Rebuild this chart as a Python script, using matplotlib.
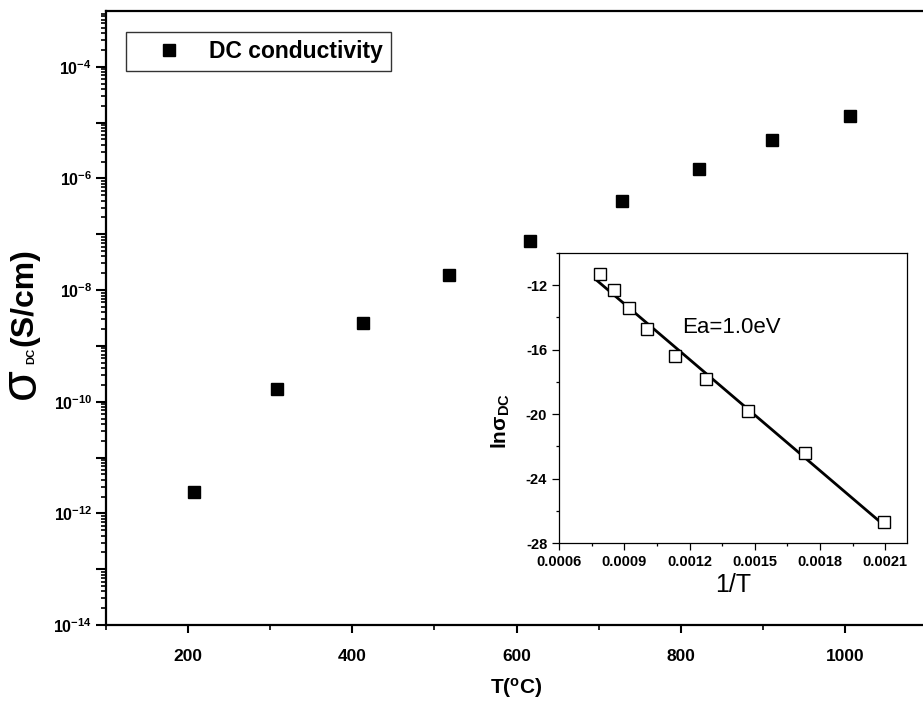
import numpy as np
import matplotlib
matplotlib.use("Agg")
import matplotlib.pyplot as plt
from matplotlib.ticker import LogLocator, FixedLocator, FuncFormatter, MultipleLocator, NullFormatter

plt.rcParams['font.family'] = ['Liberation Sans', 'DejaVu Sans']
plt.rcParams['mathtext.fontset'] = 'custom'
plt.rcParams['mathtext.rm'] = 'Liberation Sans'
plt.rcParams['mathtext.bf'] = 'Liberation Sans:bold'
plt.rcParams['mathtext.it'] = 'Liberation Sans:italic'

# DC conductivity vs temperature
temp_c = [207, 308, 413, 518, 617, 728, 822, 911, 1006]
sigma_dc = [2.45e-12, 1.7e-10, 2.6e-9, 1.85e-8, 7.6e-8, 4.0e-7, 1.5e-6, 4.8e-6, 1.3e-5]

# Arrhenius plot (inset)
inv_t = [0.000787, 0.000853, 0.000924, 0.001006, 0.001132, 0.001276, 0.001471, 0.001731, 0.002092]
ln_sigma = [-11.28, -12.27, -13.41, -14.74, -16.42, -17.82, -19.78, -22.42, -26.72]

W, H = 923, 704
fig = plt.figure(figsize=(W / 100, H / 100), dpi=100)

def rect(x0, y0, x1, y1):
    return [x0 / W, 1 - y1 / H, (x1 - x0) / W, (y1 - y0) / H]

ax = fig.add_axes(rect(106, 11, 927, 625))
ax.plot(temp_c, sigma_dc, 's', color='black', markersize=9, label='DC conductivity')
ax.set_yscale('log')
ax.set_xlim(100, 1100)
ax.set_ylim(1e-14, 1e-3)

for s in ax.spines.values():
    s.set_linewidth(1.6)
ax.spines['right'].set_visible(False)

ax.xaxis.set_major_locator(MultipleLocator(200))
ax.xaxis.set_minor_locator(MultipleLocator(100))
ax.yaxis.set_major_locator(FixedLocator([10.0 ** e for e in range(-14, -3)]))
ax.yaxis.set_minor_locator(LogLocator(base=10, subs=np.arange(2, 10), numticks=30))
ax.yaxis.set_minor_formatter(NullFormatter())

def ylab(v, pos):
    e = int(round(np.log10(v)))
    if e % 2:
        return ''
    return r'$\mathbf{10^{%d}}$' % e

ax.yaxis.set_major_formatter(FuncFormatter(ylab))
ax.tick_params(axis='both', which='major', direction='out', width=1.5)
ax.tick_params(axis='y', which='major', length=7, pad=3, labelsize=11.5)
ax.tick_params(axis='x', which='major', length=6, pad=11, labelsize=12.5)
ax.tick_params(axis='both', which='minor', direction='out', width=1.2, length=3.5)
ax.tick_params(top=False, right=False, which='both')
for lab in ax.get_xticklabels():
    lab.set_fontweight('bold')

ax.set_xlabel(r'T($\mathregular{^o}$C)', fontsize=15, fontweight='bold', labelpad=9)

# y-axis label built from parts so the sigma can be larger
fig.text(22 / W, 1 - 384 / H, '\u03c3', rotation=90, fontsize=36,
         ha='center', va='center')
fig.text(31 / W, 1 - 356 / H, 'DC', rotation=90, fontsize=8, fontweight='bold',
         ha='center', va='center')
fig.text(24 / W, 1 - 297 / H, '(S/cm)', rotation=90, fontsize=23, fontweight='bold',
         ha='center', va='center')

leg = ax.legend(loc='upper left', bbox_to_anchor=(20 / 821, 1 - 21 / 614),
                prop={'weight': 'bold', 'size': 16.5}, frameon=True, fancybox=False,
                borderpad=0.35, handletextpad=0.22, handlelength=3.05, borderaxespad=0)
leg.get_frame().set_edgecolor('black')
leg.get_frame().set_linewidth(1.0)

# Inset: ln(sigma) against 1/T with linear fit
ins = fig.add_axes(rect(559, 253, 907, 543))
ins.plot(inv_t, ln_sigma, 's', markerfacecolor='white', markeredgecolor='black',
         markersize=8, markeredgewidth=1.0, zorder=3)
slope, intercept = np.polyfit(inv_t, ln_sigma, 1)
xf = np.array([min(inv_t) - 0.00001, max(inv_t)])
ins.plot(xf, slope * xf + intercept, '-', color='black', linewidth=2.0, zorder=2)
ins.set_xlim(0.0006, 0.0022)
ins.set_ylim(-28, -10)
ins.xaxis.set_major_locator(MultipleLocator(0.0003))
ins.xaxis.set_minor_locator(MultipleLocator(0.00015))
ins.yaxis.set_major_locator(FixedLocator([-12, -16, -20, -24, -28]))
ins.yaxis.set_minor_locator(MultipleLocator(2))
ins.xaxis.set_major_formatter(FuncFormatter(lambda v, p: '%.4f' % v))
ins.yaxis.set_major_formatter(FuncFormatter(lambda v, p: '%d' % round(v)))
for s in ins.spines.values():
    s.set_linewidth(0.9)
ins.tick_params(which='major', direction='out', length=5, width=0.9, labelsize=10.5)
ins.tick_params(which='minor', direction='out', length=2.5, width=0.9)
for lab in ins.get_xticklabels() + ins.get_yticklabels():
    lab.set_fontweight('bold')
ins.set_xlabel('1/T', fontsize=18, labelpad=3)
ins.set_ylabel(r'$\mathregular{ln\sigma_{DC}}$', fontsize=15, fontweight='bold')
ins.yaxis.set_label_coords(-0.135, 0.42)
fig.text(731 / W, 1 - 328 / H, 'Ea=1.0eV', fontsize=16, ha='center', va='center')

fig.savefig('out.png', dpi=100)
